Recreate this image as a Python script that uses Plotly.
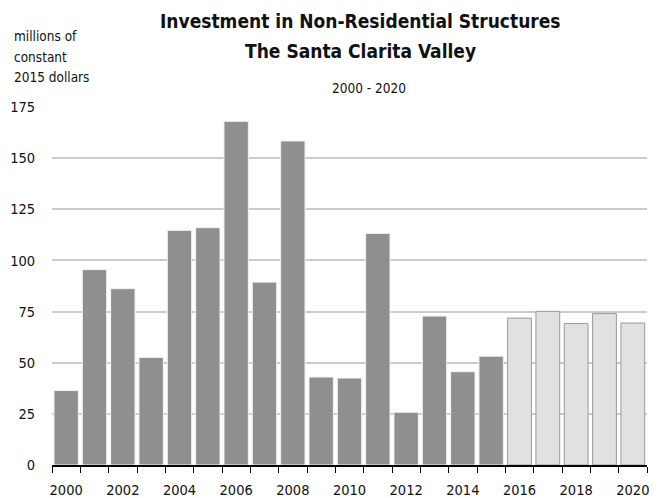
import plotly.graph_objects as go

years = list(range(2000, 2021))
values = [36.4, 95.5, 86.2, 52.6, 114.7, 116.0, 168.0, 89.4, 158.4, 43.0, 42.5,
          113.2, 25.8, 72.8, 45.6, 53.2, 71.8, 75.1, 69.2, 74.0, 69.4]
actual_end = 2015
y_ticks = [0, 25, 50, 75, 100, 125, 150, 175]
x_ticks = list(range(2000, 2021, 2))
title_lines = ["Investment in Non-Residential Structures", "The Santa Clarita Valley"]
subtitle = "2000 - 2020"
unit_lines = ["millions of", "constant", "2015 dollars"]

FONT = "DejaVu Sans Condensed, Liberation Sans Narrow, Arial Narrow, sans-serif"

hist_x = [y for y in years if y <= actual_end]
hist_v = [v for y, v in zip(years, values) if y <= actual_end]
fc_x = [y for y in years if y > actual_end]
fc_v = [v for y, v in zip(years, values) if y > actual_end]

W, H = 661, 498
ML, MR, MT, MB = 52, 14, 107, 33
pw = W - ML - MR
ph = H - MT - MB

def px(x):
    return (x - ML) / pw

def py(y_from_top):
    return (H - y_from_top - MB) / ph

fig = go.Figure()
fig.add_trace(go.Bar(x=hist_x, y=hist_v, marker=dict(color="#8f8f8f", line=dict(color="#f2f2f2", width=1)),
                     width=0.86, showlegend=False))
fig.add_trace(go.Bar(x=fc_x, y=fc_v, marker=dict(color="#e1e1e1", line=dict(color="#9a9a9a", width=1)),
                     width=0.84, showlegend=False))

annotations = [
    dict(text="<b>%s</b>" % title_lines[0], x=px(360), y=py(21), font=dict(size=19)),
    dict(text="<b>%s</b>" % title_lines[1], x=px(360), y=py(51), font=dict(size=19)),
    dict(text=subtitle, x=px(369), y=py(88), font=dict(size=13.5)),
]
for i, t in enumerate(unit_lines):
    annotations.append(dict(text=t, x=px(12), y=py(36 + i * 20.5), xanchor="left", font=dict(size=13.5)))
for a in annotations:
    a.update(xref="paper", yref="paper", showarrow=False, yanchor="middle")
    a.setdefault("xanchor", "center")
    a["font"].update(family=FONT, color="#111")

fig.update_layout(
    width=W, height=H,
    margin=dict(l=ML, r=MR, t=MT, b=MB, autoexpand=False),
    paper_bgcolor="white", plot_bgcolor="white",
    font=dict(family=FONT, size=14, color="#111"),
    xaxis=dict(range=[1999.5, 2020.5], tickvals=x_ticks, ticktext=[str(t) for t in x_ticks],
               ticks="outside", ticklen=11, tickcolor="rgba(0,0,0,0)",
               showgrid=False, zeroline=False, showline=True, linecolor="black", linewidth=1.5,
               tickfont=dict(size=14.5),
               minor=dict(ticks="outside", tick0=1999.5, dtick=1, ticklen=6, tickcolor="black", tickwidth=1,
                          showgrid=False)),
    yaxis=dict(range=[0, 175], tickvals=y_ticks, showgrid=True, gridcolor="#cccccc", gridwidth=1.5,
               zeroline=False, showline=False, ticks="outside", ticklen=13, tickcolor="rgba(0,0,0,0)",
               tickfont=dict(size=14.5)),
    annotations=annotations,
)

fig.write_html("out.html")
